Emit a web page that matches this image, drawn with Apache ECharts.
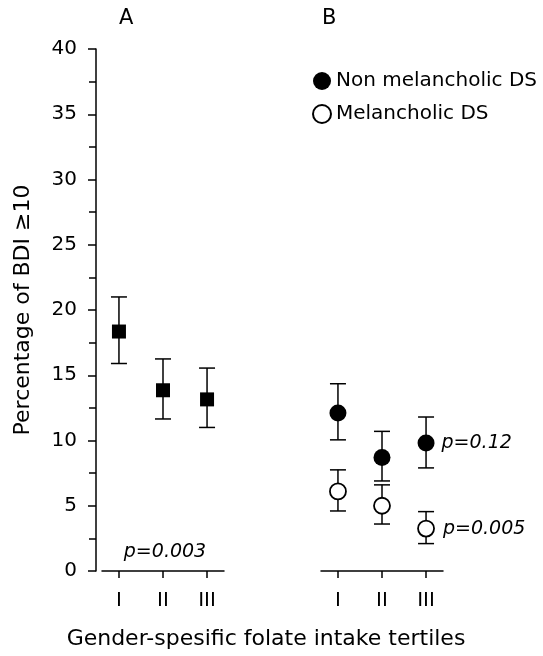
<!DOCTYPE html>
<html><head><meta charset="utf-8">
<script src="https://cdn.jsdelivr.net/npm/echarts@6/dist/echarts.min.js"></script>
<style>html,body{margin:0;padding:0;background:#fff}#c{width:543px;height:656px}</style>
</head><body><div id="c"></div>
<script>
const categories = ['I', 'II', 'III'];
const panelTitles = ['A', 'B'];
const seriesNames = ['Non melancholic DS', 'Melancholic DS'];
const totalMean = [18.35, 13.85, 13.15];
const totalLow = [15.9, 11.65, 11.0];
const totalHigh = [21.0, 16.25, 15.55];
const nonMelMean = [12.1, 8.7, 9.8];
const nonMelLow = [10.05, 6.9, 7.9];
const nonMelHigh = [14.35, 10.7, 11.8];
const melMean = [6.1, 5.0, 3.25];
const melLow = [4.6, 3.6, 2.1];
const melHigh = [7.75, 6.6, 4.55];
const pLabels = ['p=0.003', 'p=0.12', 'p=0.005'];
const yMin = 0, yMax = 40, yInterval = 5;
const yName = 'Percentage of BDI \u226510';
const xName = 'Gender-spesific folate intake tertiles';

const FONT = 'DejaVu Sans';
const chart = echarts.init(document.getElementById('c'), null, {renderer: 'canvas'});
const catPos = categories.map((c, i) => i + 1);

function pts(vals) { return vals.map((v, i) => [catPos[i], v]); }
function errs(lo, hi) { return lo.map((v, i) => [catPos[i], v, hi[i]]); }

function errRender(params, api) {
  const x = api.value(0), lo = api.value(1), hi = api.value(2);
  const a = api.coord([x, lo]), b = api.coord([x, hi]);
  const hw = 8;
  const style = {stroke: '#000', lineWidth: 1.5, fill: null};
  return {type: 'group', children: [
    {type: 'line', shape: {x1: a[0], y1: a[1], x2: b[0], y2: b[1]}, style: style},
    {type: 'line', shape: {x1: a[0] - hw, y1: a[1], x2: a[0] + hw, y2: a[1]}, style: style},
    {type: 'line', shape: {x1: b[0] - hw, y1: b[1], x2: b[0] + hw, y2: b[1]}, style: style}
  ]};
}

function xAxisFor(gridIndex) {
  return {
    type: 'value', gridIndex: gridIndex, min: 0.615, max: 3.385,
    axisLine: {show: true, lineStyle: {color: '#000', width: 1.5}},
    axisTick: {show: true, length: 7, inside: false, lineStyle: {color: '#000', width: 1.5}, customValues: catPos},
    axisLabel: {show: true, margin: 20, color: '#000', fontFamily: FONT, fontSize: 20,
      customValues: catPos, formatter: v => categories[Math.round(v) - 1] || ''},
    splitLine: {show: false}
  };
}

const pLabelStyle = {color: '#000', opacity: 1, fontFamily: FONT, fontSize: 19, fontStyle: 'italic'};

const option = {
  animation: false,
  backgroundColor: '#fff',
  textStyle: {fontFamily: FONT},
  grid: [
    {left: 102, top: 49, width: 122, height: 522},
    {left: 321, top: 49, width: 122, height: 522}
  ],
  xAxis: [xAxisFor(0), xAxisFor(1)],
  yAxis: [
    {
      type: 'value', gridIndex: 0, min: yMin, max: yMax, interval: yInterval, offset: 6,
      name: yName, nameLocation: 'middle', nameGap: 62,
      nameTextStyle: {color: '#000', fontFamily: FONT, fontSize: 22},
      axisLine: {show: true, lineStyle: {color: '#000', width: 1.5}},
      axisTick: {show: true, length: 8, lineStyle: {color: '#000', width: 1.5}},
      minorTick: {show: true, splitNumber: 2, length: 7, lineStyle: {color: '#000', width: 1.5}},
      axisLabel: {margin: 19, color: '#000', fontFamily: FONT, fontSize: 20},
      splitLine: {show: false}
    },
    {type: 'value', gridIndex: 1, min: yMin, max: yMax, interval: yInterval, show: false, splitLine: {show: false}}
  ],
  legend: {
    orient: 'vertical', left: 307, top: 66, itemWidth: 18, itemHeight: 18, itemGap: 13,
    data: seriesNames,
    textStyle: {color: '#000', fontFamily: FONT, fontSize: 20}
  },
  series: [
    {type: 'custom', xAxisIndex: 0, yAxisIndex: 0, renderItem: errRender, encode: {x: 0, y: [1, 2]}, data: errs(totalLow, totalHigh), z: 2},
    {type: 'custom', xAxisIndex: 1, yAxisIndex: 1, renderItem: errRender, encode: {x: 0, y: [1, 2]}, data: errs(nonMelLow, nonMelHigh), z: 2},
    {type: 'custom', xAxisIndex: 1, yAxisIndex: 1, renderItem: errRender, encode: {x: 0, y: [1, 2]}, data: errs(melLow, melHigh), z: 2},
    {type: 'scatter', name: 'Total', xAxisIndex: 0, yAxisIndex: 0, symbol: 'rect', symbolSize: 14,
      itemStyle: {color: '#000', opacity: 1}, data: pts(totalMean), z: 5},
    {type: 'scatter', name: seriesNames[0], xAxisIndex: 1, yAxisIndex: 1, symbol: 'circle', symbolSize: 17,
      itemStyle: {color: '#000', opacity: 1}, data: pts(nonMelMean), z: 5,
      label: Object.assign({show: true, position: 'right', distance: 7,
        formatter: p => p.dataIndex === 2 ? pLabels[1] : ''}, pLabelStyle)},
    {type: 'scatter', name: seriesNames[1], xAxisIndex: 1, yAxisIndex: 1, symbol: 'circle', symbolSize: 16,
      itemStyle: {color: '#fff', borderColor: '#000', borderWidth: 1.8, opacity: 1}, data: pts(melMean), z: 5,
      label: Object.assign({show: true, position: 'right', distance: 8,
        formatter: p => p.dataIndex === 2 ? pLabels[2] : ''}, pLabelStyle)}
  ],
  graphic: [
    {type: 'text', left: 126 - 7, top: 8, style: {text: panelTitles[0], fontFamily: FONT, fontSize: 21, fill: '#000'}},
    {type: 'text', left: 329 - 7, top: 8, style: {text: panelTitles[1], fontFamily: FONT, fontSize: 21, fill: '#000'}},
    {type: 'text', x: 165, y: 552, style: {text: pLabels[0], fontFamily: FONT, fontSize: 19, fontStyle: 'italic', fill: '#000', align: 'center', verticalAlign: 'middle'}},
    {type: 'text', x: 266, y: 639, style: {text: xName, fontFamily: FONT, fontSize: 22, fill: '#000', align: 'center', verticalAlign: 'middle'}}
  ]
};
chart.setOption(option);
</script></body></html>
